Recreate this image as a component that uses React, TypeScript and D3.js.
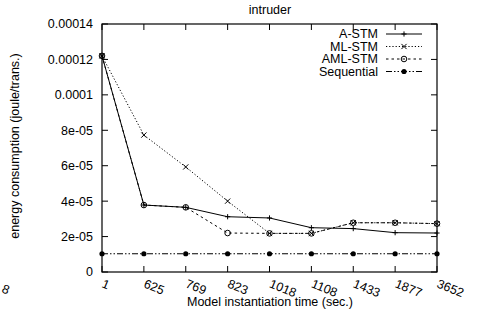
import React from "react";
import * as d3 from "d3";

const categories = ["1", "625", "769", "823", "1018", "1108", "1433", "1877", "3652"];
const aStm = [1.22e-4, 3.78e-5, 3.65e-5, 3.12e-5, 3.05e-5, 2.5e-5, 2.45e-5, 2.22e-5, 2.2e-5];
const mlStm = [1.22e-4, 7.73e-5, 5.93e-5, 4.0e-5, 2.18e-5, 2.18e-5, 2.78e-5, 2.78e-5, 2.73e-5];
const amlStm = [1.22e-4, 3.78e-5, 3.65e-5, 2.2e-5, 2.18e-5, 2.18e-5, 2.78e-5, 2.78e-5, 2.73e-5];
const sequential = [1.03e-5, 1.03e-5, 1.03e-5, 1.03e-5, 1.03e-5, 1.03e-5, 1.03e-5, 1.03e-5, 1.03e-5];
const yTicks = [0, 2e-5, 4e-5, 6e-5, 8e-5, 1e-4, 1.2e-4, 1.4e-4];
const yTickLabels = ["0", "2e-05", "4e-05", "6e-05", "8e-05", "0.0001", "0.00012", "0.00014"];
const seriesNames = ["A-STM", "ML-STM", "AML-STM", "Sequential"];

const W = 483, H = 324;
const L = 102, R = 437, T = 24, B = 272;
const FONT = "'Liberation Sans', Arial, sans-serif";

type Marker = "plus" | "cross" | "circle" | "dot";

function MarkerShape({ type, x, y }: { type: Marker; x: number; y: number }) {
  const s = 2.6;
  if (type === "plus")
    return <path d={`M${x - s},${y}H${x + s}M${x},${y - s}V${y + s}`} stroke="#000" strokeWidth={1} />;
  if (type === "cross")
    return <path d={`M${x - s},${y - s}L${x + s},${y + s}M${x - s},${y + s}L${x + s},${y - s}`} stroke="#000" strokeWidth={1} />;
  if (type === "circle")
    return <circle cx={x} cy={y} r={2.8} fill="none" stroke="#000" strokeWidth={1} />;
  return <circle cx={x} cy={y} r={2.6} fill="#000" />;
}

export default function App() {
  const x = d3.scalePoint<string>().domain(categories).range([L, R]);
  const y = d3.scaleLinear().domain([0, 1.4e-4]).range([B, T]);
  const line = d3.line<number>().x((_, i) => x(categories[i])!).y((d) => y(d));

  const series: { name: string; data: number[]; dash: string; marker: Marker }[] = [
    { name: seriesNames[0], data: aStm, dash: "none", marker: "plus" },
    { name: seriesNames[1], data: mlStm, dash: "1.2,2", marker: "cross" },
    { name: seriesNames[2], data: amlStm, dash: "2.5,3", marker: "circle" },
    { name: seriesNames[3], data: sequential, dash: "6,2,1.5,2,1.5,2", marker: "dot" },
  ];

  const legendRowY = [34, 46.5, 59, 71.5];

  return (
    <svg width={W} height={H} style={{ position: "absolute", left: 0, top: 0, background: "#fff" }} fontFamily={FONT}>
      <rect x={0} y={0} width={W} height={H} fill="#fff" />
      <text x={270} y={14} fontSize={12.5} textAnchor="middle">intruder</text>

      {yTicks.map((t, i) => (
        <g key={i}>
          <line x1={L} x2={L + 6} y1={y(t)} y2={y(t)} stroke="#000" />
          <line x1={R} x2={R - 6} y1={y(t)} y2={y(t)} stroke="#000" />
          <text x={L - 9} y={y(t)} dy="0.35em" fontSize={12.5} textAnchor="end">{yTickLabels[i]}</text>
        </g>
      ))}

      {categories.map((c) => (
        <g key={c}>
          <line x1={x(c)!} x2={x(c)!} y1={B} y2={B - 6} stroke="#000" />
          <line x1={x(c)!} x2={x(c)!} y1={T} y2={T + 6} stroke="#000" />
          <text transform={`translate(${x(c)! - 1},${B + 15}) rotate(22)`} fontSize={12.5} textAnchor="start">{c}</text>
        </g>
      ))}

      <text transform={`translate(1,${292}) rotate(22)`} fontSize={12.5}>8</text>

      {series.map((s) => (
        <g key={s.name}>
          <path d={line(s.data)!} fill="none" stroke="#000" strokeWidth={1} strokeDasharray={s.dash} />
          {s.data.map((v, i) => (
            <MarkerShape key={i} type={s.marker} x={x(categories[i])!} y={y(v)} />
          ))}
        </g>
      ))}

      {series.map((s, i) => (
        <g key={s.name}>
          <text x={378} y={legendRowY[i]} dy="0.35em" fontSize={12.5} textAnchor="end">{s.name}</text>
          <line x1={386} x2={422} y1={legendRowY[i]} y2={legendRowY[i]} stroke="#000" strokeDasharray={s.dash} />
          <MarkerShape type={s.marker} x={404} y={legendRowY[i]} />
        </g>
      ))}

      <rect x={L} y={T} width={R - L} height={B - T} fill="none" stroke="#000" strokeWidth={1.2} />

      <text x={270} y={306} fontSize={12.5} textAnchor="middle">Model instantiation time (sec.)</text>
      <text transform={`translate(19,${146}) rotate(-90)`} fontSize={12.5} textAnchor="middle">energy consumption (joule/trans.)</text>
    </svg>
  );
}
